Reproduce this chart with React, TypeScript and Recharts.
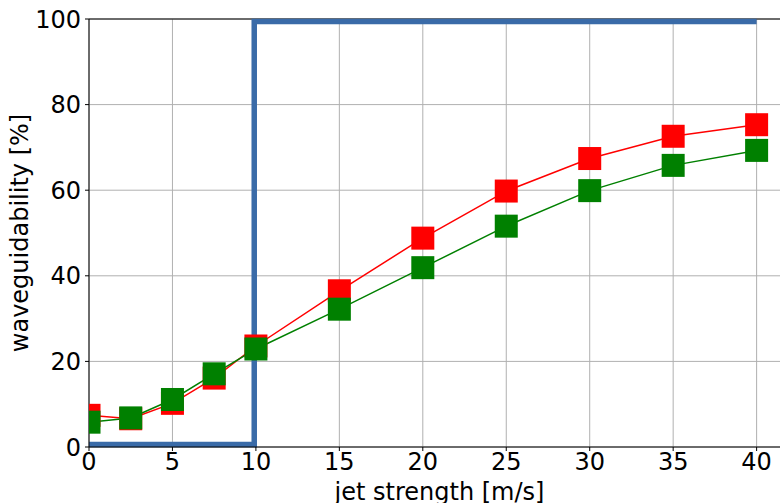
import { LineChart, Line, XAxis, YAxis, CartesianGrid, ReferenceLine } from "recharts"

const jetX = [0, 2.5, 5, 7.5, 10, 15, 20, 25, 30, 35, 40]
const redVals = [7.4, 6.6, 10.2, 16.1, 23.6, 36.5, 48.8, 59.8, 67.4, 72.6, 75.3]
const greenVals = [5.8, 6.8, 11.1, 17.1, 22.9, 32.2, 41.9, 51.6, 59.9, 65.8, 69.3]
const stepX = [0, 9.9, 9.9, 40]
const stepVals = [0.6, 0.6, 99.4, 99.4]
const xTicks = [0, 5, 10, 15, 20, 25, 30, 35, 40]
const yTicks = [0, 20, 40, 60, 80, 100]

const red = jetX.map((x, i) => ({ x, y: redVals[i] }))
const green = jetX.map((x, i) => ({ x, y: greenVals[i] }))
const step = stepX.map((x, i) => ({ x, y: stepVals[i] }))

const font = "DejaVu Sans, sans-serif"

const Square = (color: string) => (props: any) => {
  const { cx, cy } = props
  if (cx == null || cy == null) return null
  const s = 23
  return <rect x={cx - s / 2} y={cy - s / 2} width={s} height={s} fill={color} />
}

export default function App() {
  return (
    <div style={{ position: "absolute", left: 0, top: 0, width: 780, height: 503, overflow: "hidden", background: "#fff" }}>
      <LineChart width={800} height={503} margin={{ top: 19, right: 10, bottom: 0, left: 0 }}>
        <CartesianGrid stroke="#b0b0b0" strokeWidth={1} />
        <XAxis
          type="number"
          dataKey="x"
          domain={[0, 42]}
          ticks={xTicks}
          height={56}
          allowDataOverflow
          stroke="#000"
          tickSize={4}
          tickMargin={2}
          tick={{ fill: "#000", fontSize: 24, fontFamily: font }}
          label={{ value: "jet strength [m/s]", position: "insideBottom", offset: 3, fill: "#000", fontSize: 24, fontFamily: font }}
        />
        <YAxis
          type="number"
          domain={[0, 100]}
          ticks={yTicks}
          width={89}
          stroke="#000"
          tickSize={4}
          tickMargin={4}
          tick={{ fill: "#000", fontSize: 24, fontFamily: font }}
          label={{ value: "waveguidability [%]", angle: -90, position: "insideLeft", offset: 19, fill: "#000", fontSize: 24, fontFamily: font, style: { textAnchor: "middle" } }}
        />
        <ReferenceLine y={100} stroke="#000" strokeWidth={1} />
        <Line data={red} dataKey="y" type="linear" stroke="#ff0000" strokeWidth={1.5} dot={Square("#ff0000")} isAnimationActive={false} />
        <Line data={green} dataKey="y" type="linear" stroke="#008000" strokeWidth={1.5} dot={Square("#008000")} isAnimationActive={false} />
        <Line data={step} dataKey="y" type="linear" stroke="#3a6ba8" strokeWidth={5.5} dot={false} isAnimationActive={false} />
      </LineChart>
    </div>
  )
}
